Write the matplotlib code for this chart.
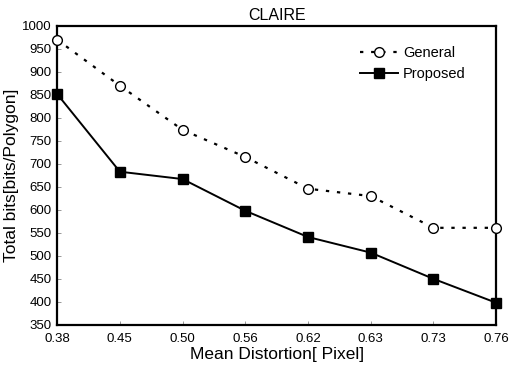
import matplotlib
matplotlib.use("Agg")
import matplotlib.pyplot as plt
import numpy as np

plt.rcParams['font.family'] = ['Liberation Sans', 'DejaVu Sans']

# data
distortion = ["0.38", "0.45", "0.50", "0.56", "0.62", "0.63", "0.73", "0.76"]
general = [970, 870, 774, 715, 646, 630, 561, 561]
proposed = [852, 683, 667, 598, 541, 507, 450, 398]

fig = plt.figure(figsize=(5.1, 3.7), dpi=100, facecolor='white')
ax = fig.add_axes([0.112, 0.122, 0.861, 0.808])

x = np.arange(len(distortion))
ax.plot(x, general, color='black', lw=1.6, ls=(0, (1.5, 3.5)),
        marker='o', ms=7, mfc='white', mec='black', mew=1.0,
        label='General', clip_on=False, zorder=3)
ax.plot(x, proposed, color='black', lw=1.4, ls='-',
        marker='s', ms=7, mfc='black', mec='black',
        label='Proposed', clip_on=False, zorder=3)

ax.set_xlim(0, len(distortion) - 1)
ax.set_ylim(350, 1000)
ax.set_xticks(x)
ax.set_xticklabels(distortion)
ax.set_yticks(np.arange(350, 1001, 50))

for s in ax.spines.values():
    s.set_linewidth(1.6)
ax.tick_params(axis='both', direction='in', length=3, width=0.6,
               color='#888888', labelsize=9.5, pad=6)
ax.tick_params(axis='y', pad=4)

ax.set_title('CLAIRE', fontsize=11.5, pad=4)
ax.set_xlabel('Mean Distortion[ Pixel]', fontsize=12.5, labelpad=1)
ax.set_ylabel('Total bits[bits/Polygon]', fontsize=12.5, labelpad=2)

leg = ax.legend(loc='upper right', frameon=False, fontsize=10.5,
                handlelength=2.6, handletextpad=0.3, labelspacing=0.45,
                bbox_to_anchor=(0.96, 0.975))

fig.savefig('out.png', dpi=100, facecolor='white')
